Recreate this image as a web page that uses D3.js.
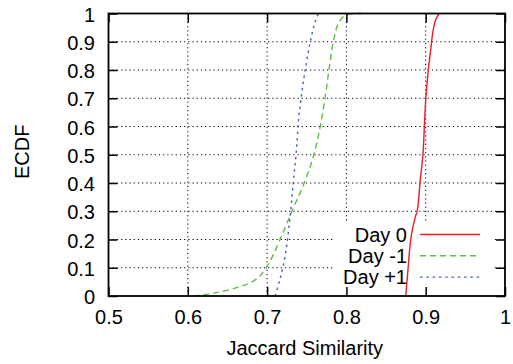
<!DOCTYPE html>
<html>
<head>
<meta charset="utf-8">
<script src="https://cdn.jsdelivr.net/npm/d3@7"></script>
<style>
  html, body { margin: 0; padding: 0; background: #fff; }
  svg { display: block; }
  text { font-family: "Liberation Sans", Arial, Helvetica, sans-serif; fill: #000; }
</style>
</head>
<body>
<svg id="chart" width="513" height="364"></svg>
<script>
// ---- data ----
const xTicks = [0.5, 0.6, 0.7, 0.8, 0.9, 1];
const yTicks = [0, 0.1, 0.2, 0.3, 0.4, 0.5, 0.6, 0.7, 0.8, 0.9, 1];
const seriesNames = ["Day 0", "Day -1", "Day +1"];
const seriesColors = ["#ee1c25", "#62bb46", "#4264bd"];

const day0X = [0.8748, 0.878, 0.8793, 0.8823, 0.887, 0.8895, 0.8932, 0.8965, 0.8983, 0.900, 0.9033, 0.9063, 0.9088, 0.9126, 0.917];
const day0Y = [0, 0.104, 0.151, 0.222, 0.281, 0.304, 0.411, 0.499, 0.599, 0.694, 0.8, 0.871, 0.93, 0.978, 1.0];

const dayM1X = [0.607, 0.632, 0.666, 0.685, 0.699, 0.716, 0.731, 0.747, 0.759, 0.767, 0.773, 0.778, 0.7835, 0.790, 0.798, 0.808, 0.819];
const dayM1Y = [0, 0.01, 0.033, 0.057, 0.1, 0.198, 0.298, 0.401, 0.5, 0.6, 0.7, 0.8, 0.9, 0.965, 0.993, 0.999, 1];

const dayP1X = [0.710, 0.716, 0.7226, 0.729, 0.733, 0.737, 0.740, 0.7436, 0.748, 0.754, 0.760, 0.7646];
const dayP1Y = [0, 0.057, 0.139, 0.28, 0.4, 0.517, 0.635, 0.717, 0.8, 0.894, 0.965, 1];

// ---- layout ----
const L = 108.5, R = 505, T = 13.5, B = 296;
const svg = d3.select("#chart");
const x = d3.scaleLinear().domain([0.5, 1]).range([L, R]);
const y = d3.scaleLinear().domain([0, 1]).range([B, T]);
const fmt = d => d3.format("")(+d.toFixed(1));

// grid
const grid = svg.append("g");
grid.selectAll("line.gx").data(xTicks.filter(d => d > 0.5 && d < 1)).join("line")
  .attr("x1", d => x(d)).attr("x2", d => x(d)).attr("y1", T).attr("y2", B)
  .attr("stroke", "#000").attr("stroke-width", 1).attr("stroke-dasharray", "1.2,3");
grid.selectAll("line.gy").data(yTicks.filter(d => d > 0 && d < 1)).join("line")
  .attr("y1", d => y(d)).attr("y2", d => y(d)).attr("x1", L).attr("x2", R)
  .attr("stroke", "#000").attr("stroke-width", 1).attr("stroke-dasharray", "1.2,3");

// legend background
svg.append("rect").attr("x", 333).attr("y", 223).attr("width", 160).attr("height", 73).attr("fill", "#fff");

// curves
const series = [
  { xs: day0X, ys: day0Y, dash: null },
  { xs: dayM1X, ys: dayM1Y, dash: "6,4" },
  { xs: dayP1X, ys: dayP1Y, dash: "2.5,3.8" }
];
const line = d3.line().x(d => x(d[0])).y(d => y(d[1])).curve(d3.curveCatmullRom.alpha(0.5));
series.forEach((s, i) => {
  svg.append("path")
    .datum(s.xs.map((v, k) => [v, s.ys[k]]))
    .attr("d", line)
    .attr("fill", "none")
    .attr("stroke", seriesColors[i])
    .attr("stroke-width", 1.4)
    .attr("stroke-dasharray", s.dash);
});

// legend
const leg = svg.append("g");
seriesNames.forEach((n, i) => {
  const cy = 234.5 + i * 21.3;
  leg.append("text").attr("x", 407).attr("y", cy + 7).attr("text-anchor", "end")
    .attr("font-size", 20).text(n);
  leg.append("line").attr("x1", 420).attr("x2", 480).attr("y1", cy).attr("y2", cy)
    .attr("stroke", seriesColors[i]).attr("stroke-width", 1.4)
    .attr("stroke-dasharray", series[i].dash);
});

// axes
const tick = 9;
const ax = (g) => { g.selectAll("text").attr("font-size", 20).attr("font-family", "Liberation Sans, Arial, sans-serif").attr("fill", "#000"); g.selectAll("line").attr("stroke", "#000").attr("stroke-width", 1.5); g.select(".domain").remove(); };
svg.append("g").attr("transform", `translate(0,${B})`)
  .call(d3.axisBottom(x).tickValues(xTicks).tickFormat(fmt).tickSize(-tick).tickPadding(14))
  .call(ax);
svg.append("g").attr("transform", `translate(${L},0)`)
  .call(d3.axisLeft(y).tickValues(yTicks).tickFormat(fmt).tickSize(-tick).tickPadding(13.5))
  .call(ax)
  .selectAll("text").attr("dy", "0.38em");
svg.append("g").attr("transform", `translate(0,${T})`)
  .call(d3.axisTop(x).tickValues(xTicks).tickFormat("").tickSize(-tick))
  .call(ax);
svg.append("g").attr("transform", `translate(${R},0)`)
  .call(d3.axisRight(y).tickValues(yTicks).tickFormat("").tickSize(-tick))
  .call(ax);

// frame
svg.append("rect").attr("x", L).attr("y", T).attr("width", R - L).attr("height", B - T)
  .attr("fill", "none").attr("stroke", "#000").attr("stroke-width", 1.8);

// titles
svg.append("text").attr("x", (L + R) / 2 - 2).attr("y", 355).attr("text-anchor", "middle")
  .attr("font-size", 20).text("Jaccard Similarity");
svg.append("text").attr("transform", `translate(29,${(T + B) / 2 - 3}) rotate(-90)`)
  .attr("text-anchor", "middle").attr("font-size", 20).text("ECDF");
</script>
</body>
</html>
